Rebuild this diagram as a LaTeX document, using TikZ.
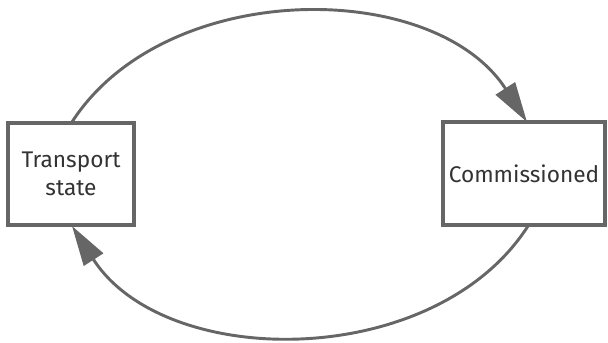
\documentclass[tikz,border=0pt]{standalone}
\usepackage{fontspec}
\setmainfont{Fira Sans}
\usetikzlibrary{arrows.meta}
\definecolor{edgegray}{HTML}{666666}
\definecolor{textgray}{HTML}{333333}
\begin{document}
\begin{tikzpicture}[x=0.75pt,y=-0.75pt,
  statebox/.style={draw=edgegray,line width=2.4pt,fill=white,inner sep=0pt,text=textgray,font=\fontsize{17pt}{21pt}\selectfont,align=center},
  flow/.style={draw=edgegray,line width=2.2pt,-{Triangle[length=30pt,width=17pt]}}]
\useasboundingbox (0,0) rectangle (608,343);
\node[statebox,minimum width=126*0.75pt,minimum height=102*0.75pt] (ts) at (71,174) {Transport\\state};
\node[statebox,minimum width=162*0.75pt,minimum height=103*0.75pt] (cm) at (524,173.5) {Commissioned};
\coordinate (a1) at (72,122);
\coordinate (a2) at (527,122);
\coordinate (b1) at (528,226);
\coordinate (b2) at (72,226);
\draw[flow] (a1) .. controls (165,-22) and (434,-22) .. (a2);
\draw[flow] (b1) .. controls (435,371) and (165,371) .. (b2);
\end{tikzpicture}
\end{document}
